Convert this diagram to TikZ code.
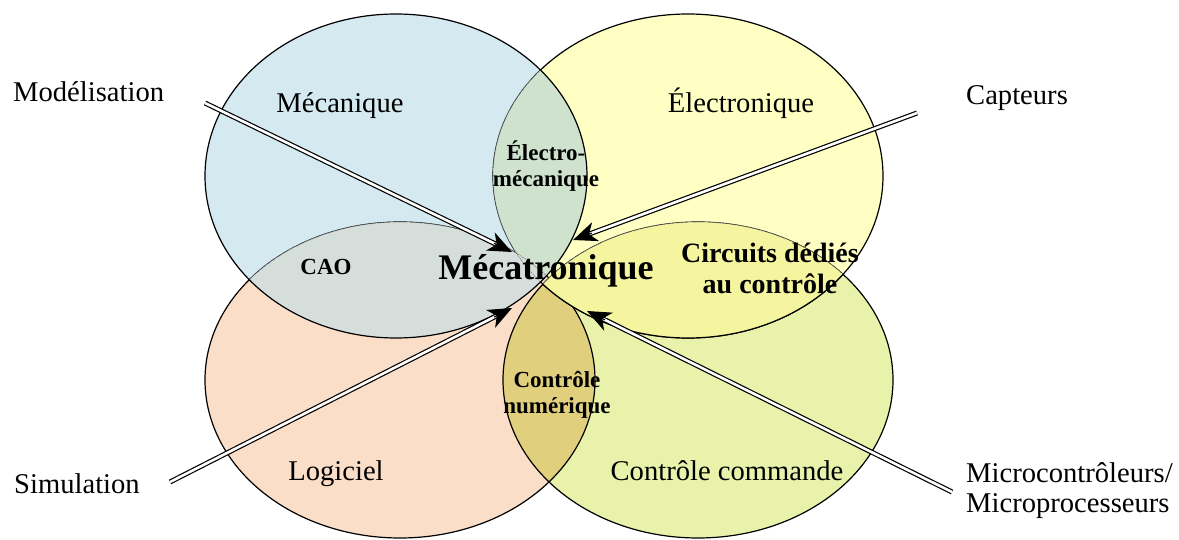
\documentclass[tikz,border=0pt]{standalone}
\usepackage{fontspec}
\setmainfont{Liberation Serif}
\usetikzlibrary{arrows.meta,calc}
\definecolor{cBlu}{RGB}{213,233,240}
\definecolor{cYel}{RGB}{255,255,195}
\definecolor{cOra}{RGB}{250,222,200}
\definecolor{cGrn}{RGB}{232,242,170}
\definecolor{cBY}{RGB}{206,226,206}
\definecolor{cBO}{RGB}{214,222,220}
\definecolor{cYG}{RGB}{245,245,160}
\definecolor{cOG}{RGB}{224,208,125}
\def\pathBlu{(396,176) ellipse [x radius=191pt, y radius=162pt]}
\def\pathYel{(688,176) ellipse [x radius=195pt, y radius=162pt]}
\def\pathOra{(400,380) ellipse [x radius=195pt, y radius=158pt]}
\def\pathGrn{(698,380) ellipse [x radius=195pt, y radius=158pt]}
\begin{document}
\begin{tikzpicture}[x=1pt,y=-1pt,
  bord/.style={draw=black,line width=1.2pt},
  faint/.style={draw=black!55,line width=0.6pt,dash pattern=on 1.5pt off 1pt},
  lbl/.style={font=\fontsize{28.6}{34}\selectfont,inner sep=0pt},
  blbl/.style={font=\bfseries\fontsize{23}{26}\selectfont,align=center,inner sep=0pt},
  dbl/.style={draw=black,double=white,double distance=2.6pt,line width=1.2pt},
  tip/.style={draw=black,line width=1.2pt,-{Stealth[length=24pt,width=20pt,inset=7pt]}}]
\useasboundingbox (0,0) rectangle (1179,540);
\fill[white] (0,0) rectangle (1179,540);
% base fills
\fill[cYel] \pathYel;
\fill[cGrn] \pathGrn;
\fill[cOra] \pathOra;
\fill[cBlu] \pathBlu;
\begin{scope}\clip \pathOra; \fill[cOG] \pathGrn; \end{scope}
% borders of the lower ellipses
\draw[bord] \pathYel;
\draw[bord] \pathOra;
\draw[bord] \pathGrn;
% lenses covering hidden arcs
\begin{scope}\clip \pathBlu; \fill[cBY] \pathYel; \end{scope}
\begin{scope}\clip \pathBlu; \fill[cBO] \pathOra; \end{scope}
\begin{scope}\clip \pathYel; \fill[cYG] \pathGrn; \end{scope}
% faint hidden arcs
\begin{scope}\clip \pathBlu; \draw[faint] \pathYel; \draw[faint] \pathOra; \end{scope}
\begin{scope}\clip \pathYel; \draw[faint] \pathGrn; \end{scope}
% restore visible borders
\draw[bord] \pathBlu;
\begin{scope}\clip \pathGrn; \draw[bord] \pathYel; \end{scope}

% labels
\node[lbl,anchor=base] (mec) at (340,113) {Mécanique};
\node[lbl,anchor=base] (ele) at (741,113) {Électronique};
\node[lbl,anchor=base] (logi) at (336,480) {Logiciel};
\node[lbl,anchor=base] (ccom) at (727,480) {Contrôle commande};
\node[lbl,anchor=base west] (mod) at (13,102) {Modélisation};
\node[lbl,anchor=base west] (capt) at (966,105) {Capteurs};
\node[lbl,anchor=base west] (simu) at (14,493) {Simulation};
\node[lbl,anchor=west,align=left,font=\fontsize{28.6}{30}\selectfont] (micro) at (966,491) {Microcontrôleurs/\\Microprocesseurs};
\node[blbl] (elm) at (546,166) {Électro-\\mécanique};
\node[blbl,anchor=base] (cao) at (326,275) {CAO};
\node[blbl,font=\bfseries\fontsize{28}{31}\selectfont] (circ) at (770,268) {Circuits dédiés\\au contrôle};
\node[blbl,font=\bfseries\fontsize{23}{26}\selectfont] (cnum) at (557,395) {Contrôle\\numérique};
\node[inner sep=0pt,anchor=base,font=\bfseries\fontsize{36}{40}\selectfont] (meca) at (546,280) {Mécatronique};

% arrows
\coordinate (modS) at (205,103);
\coordinate (modT) at (512,252);
\coordinate (capS) at (917,113);
\coordinate (capT) at (573,240);
\coordinate (simS) at (170,482);
\coordinate (simT) at (512,308);
\coordinate (micS) at (952,492);
\coordinate (micT) at (587,311);
\foreach \s/\t in {modS/modT,capS/capT,simS/simT,micS/micT}{
  \draw[dbl] (\s) -- ($(\t)!14pt!(\s)$);
  \draw[tip] ($(\t)!20pt!(\s)$) -- (\t);
}
\end{tikzpicture}
\end{document}
